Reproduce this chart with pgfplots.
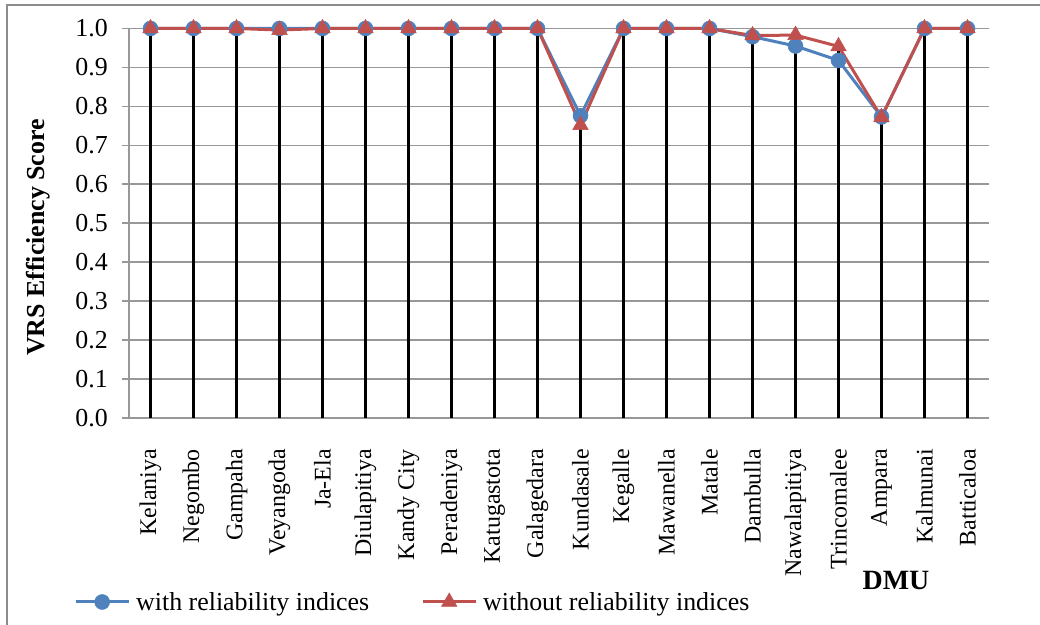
\documentclass[border=0pt]{standalone}
\usepackage{pgfplots}
\pgfplotsset{compat=1.18}
\usepackage{fontspec}
\setmainfont{Liberation Serif}

\definecolor{serblue}{HTML}{4F81BD}
\definecolor{serred}{HTML}{C0504D}
\definecolor{gridgray}{HTML}{989898}
\definecolor{framegray}{HTML}{8C8C8C}

\begin{document}
\begin{tikzpicture}[x=1bp, y=1bp, font=\fontsize{26}{31}\selectfont]
\path[use as bounding box] (0,0) rectangle (1040,625);
% outer chart frame
\draw[framegray, line width=2bp] (7,-5) -- (7,620) -- (1045,620);

\begin{axis}[
  at={(129bp,207bp)}, anchor=south west,
  scale only axis, width=860bp, height=389.5bp,
  xmin=-0.5, xmax=19.5, ymin=0, ymax=1,
  clip=false,
  axis lines*=left,
  axis line style={gridgray, line width=1.6bp},
  ymajorgrids,
  grid style={gridgray, line width=1.6bp},
  tick align=outside, major tick length=7bp,
  ytick={0,0.1,0.2,0.3,0.4,0.5,0.6,0.7,0.8,0.9,1.0},
  ytick style={gridgray, line width=1.6bp},
  xtick style={draw=none},
  /pgf/number format/assume math mode=true,
  yticklabel style={/pgf/number format/fixed, /pgf/number format/fixed zerofill,
    /pgf/number format/precision=1, anchor=east, inner sep=0pt},
  yticklabel shift=14bp,
  xtick={0,...,19},
  xticklabels={Kelaniya, Negombo, Gampaha, Veyangoda, Ja-Ela, Diulapitiya,
    Kandy City, Peradeniya, Katugastota, Galagedara, Kundasale, Kegalle,
    Mawanella, Matale, Dambulla, Nawalapitiya, Trincomalee, Ampara,
    Kalmunai, Batticaloa},
  xticklabel style={rotate=90, anchor=east, inner sep=0pt,
    font=\fontsize{24}{28}\selectfont},
  xticklabel shift=24bp,
  legend columns=2,
  legend style={at={(axis description cs:-0.064,-0.4724)}, anchor=west,
    draw=none, fill=none, inner sep=0pt, nodes={inner sep=0pt},
    /tikz/every odd column/.append style={column sep=6bp},
    /tikz/every even column/.append style={column sep=52bp}},
  legend image code/.code={\draw[#1, mark repeat=2, mark phase=2]
    plot coordinates {(0bp,0bp) (26.5bp,0bp) (53bp,0bp)};},
]
% with reliability indices
\addplot[serblue, line width=3bp, mark=*, mark size=7.5bp,
  mark options={solid, fill=serblue, draw=serblue, line width=0.5bp}]
  coordinates {
  (0,1) (1,1) (2,1) (3,1) (4,1) (5,1) (6,1) (7,1) (8,1) (9,1)
  (10,0.776) (11,1) (12,1) (13,1) (14,0.979) (15,0.955) (16,0.918)
  (17,0.773) (18,1) (19,1)};
\addlegendentry{with reliability indices}
% without reliability indices
\addplot[serred, line width=3bp, mark=triangle*, mark size=9bp,
  mark options={solid, fill=serred, draw=serred, line width=0.5bp}]
  coordinates {
  (0,1) (1,1) (2,1) (3,0.996) (4,1) (5,1) (6,1) (7,1) (8,1) (9,1)
  (10,0.752) (11,1) (12,1) (13,1) (14,0.982) (15,0.983) (16,0.954)
  (17,0.772) (18,1) (19,1)};
\addlegendentry{without reliability indices}
% drop lines from the higher of the two scores
\addplot[black, line width=2.2bp, ycomb, no markers, forget plot]
  coordinates {
  (0,1) (1,1) (2,1) (3,1) (4,1) (5,1) (6,1) (7,1) (8,1) (9,1)
  (10,0.776) (11,1) (12,1) (13,1) (14,0.982) (15,0.983) (16,0.954)
  (17,0.773) (18,1) (19,1)};
\end{axis}

\node[rotate=90, font=\fontsize{26}{31}\selectfont\bfseries] at (38,387.5)
  {VRS Efficiency Score};
\node[font=\fontsize{28}{33}\selectfont\bfseries] at (896,44) {DMU};
\end{tikzpicture}
\end{document}
